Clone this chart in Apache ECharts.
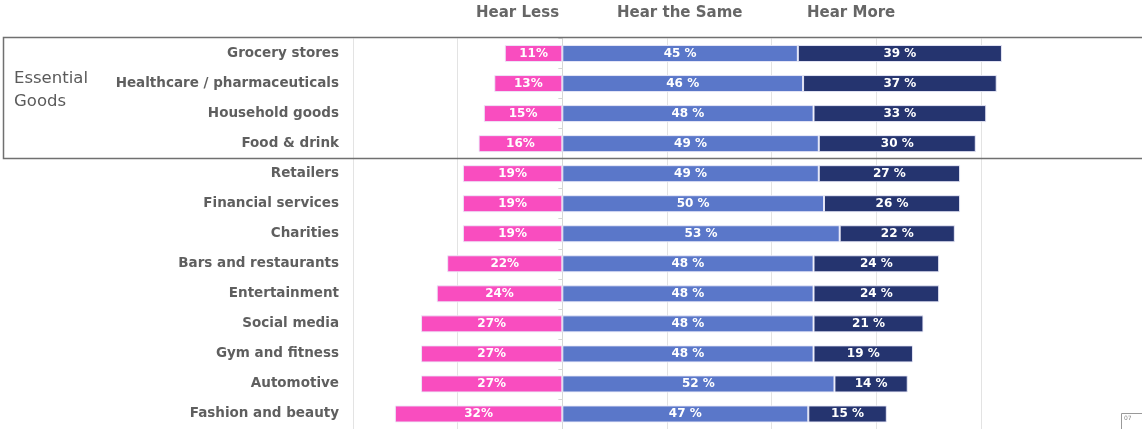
<!DOCTYPE html>
<html>
<head>
<meta charset="utf-8">
<script src="https://cdn.jsdelivr.net/npm/echarts@6/dist/echarts.min.js"></script>
<style>
html,body{margin:0;padding:0;background:#fff;}
#c{width:1142px;height:429px;}
</style>
</head>
<body>
<div id="c"></div>
<script>
const categories = ['Grocery stores','Healthcare / pharmaceuticals','Household goods','Food & drink','Retailers','Financial services','Charities','Bars and restaurants','Entertainment','Social media','Gym and fitness','Automotive','Fashion and beauty'];
const hearLess = [11,13,15,16,19,19,19,22,24,27,27,27,32];
const hearSame = [45,46,48,49,49,50,53,48,48,48,48,52,47];
const hearMore = [39,37,33,30,27,26,22,24,24,21,19,14,15];
const seriesNames = ['Hear Less','Hear the Same','Hear More'];
const groupLabel = 'Essential\nGoods';

const FONT = 'DejaVu Sans';
const labelStyle = {show:true, position:'inside', color:'#fff', fontWeight:'bold', fontSize:12, fontFamily:FONT};
const border = {borderColor:'rgba(235,235,250,0.9)', borderWidth:1};

const chart = echarts.init(document.getElementById('c'), null, {renderer:'canvas'});
chart.setOption({
  animation:false,
  backgroundColor:'#fff',
  grid:{left:353, right:161, top:38.5, height:393, containLabel:false},
  xAxis:{type:'value', min:-40, max:80, interval:20,
    axisLabel:{show:false}, axisLine:{show:false}, axisTick:{show:false},
    splitLine:{show:true, lineStyle:{color:'#e3e3e3', width:1}}},
  yAxis:[
    {type:'category', data:categories, inverse:true, position:'left',
     axisLine:{show:false, onZero:false}, axisTick:{show:false},
     axisLabel:{margin:14, color:'#5f5f5f', fontWeight:'bold', fontSize:13.5, fontFamily:FONT}},
    {type:'category', data:categories, inverse:true, position:'left',
     axisLine:{show:true, onZero:true, lineStyle:{color:'#d6d6d6'}},
     axisTick:{show:true, length:4, lineStyle:{color:'#d6d6d6'}},
     axisLabel:{show:false}}
  ],
  series:[
    {name:seriesNames[0], type:'bar', stack:'t', barWidth:17, clip:false,
     data:hearLess.map(v=>-v),
     itemStyle:Object.assign({color:'#F94DBF'}, border),
     label:Object.assign({}, labelStyle, {formatter:p=>Math.abs(p.value)+'%'})},
    {name:seriesNames[1], type:'bar', stack:'t', barWidth:17, clip:false,
     data:hearSame,
     itemStyle:Object.assign({color:'#5A77C9'}, border),
     label:Object.assign({}, labelStyle, {formatter:p=>p.value+' %'})},
    {name:seriesNames[2], type:'bar', stack:'t', barWidth:17, clip:false,
     data:hearMore,
     itemStyle:Object.assign({color:'#25346F'}, border),
     label:Object.assign({}, labelStyle, {formatter:p=>p.value+' %'})}
  ],
  graphic:[
    {type:'text', left:476, top:6, style:{text:seriesNames[0], fill:'#666', font:'bold 15px '+FONT}},
    {type:'text', left:617, top:6, style:{text:seriesNames[1], fill:'#666', font:'bold 15px '+FONT}},
    {type:'text', left:807, top:6, style:{text:seriesNames[2], fill:'#666', font:'bold 15px '+FONT}},
    {type:'rect', shape:{x:3.5, y:37.5, width:1160, height:121}, style:{fill:'none', stroke:'#707070', lineWidth:1.5}, z:10},
    {type:'text', left:14, top:67, style:{text:groupLabel, fill:'#5a5a5a', font:'16.5px '+FONT, lineHeight:23}},
    {type:'rect', shape:{x:1121.5, y:413.5, width:30, height:20}, style:{fill:'#fff', stroke:'#999', lineWidth:1}},
    {type:'text', left:1124, top:415, style:{text:'07', fill:'#888', font:'6px '+FONT}}
  ]
});
</script>
</body>
</html>
